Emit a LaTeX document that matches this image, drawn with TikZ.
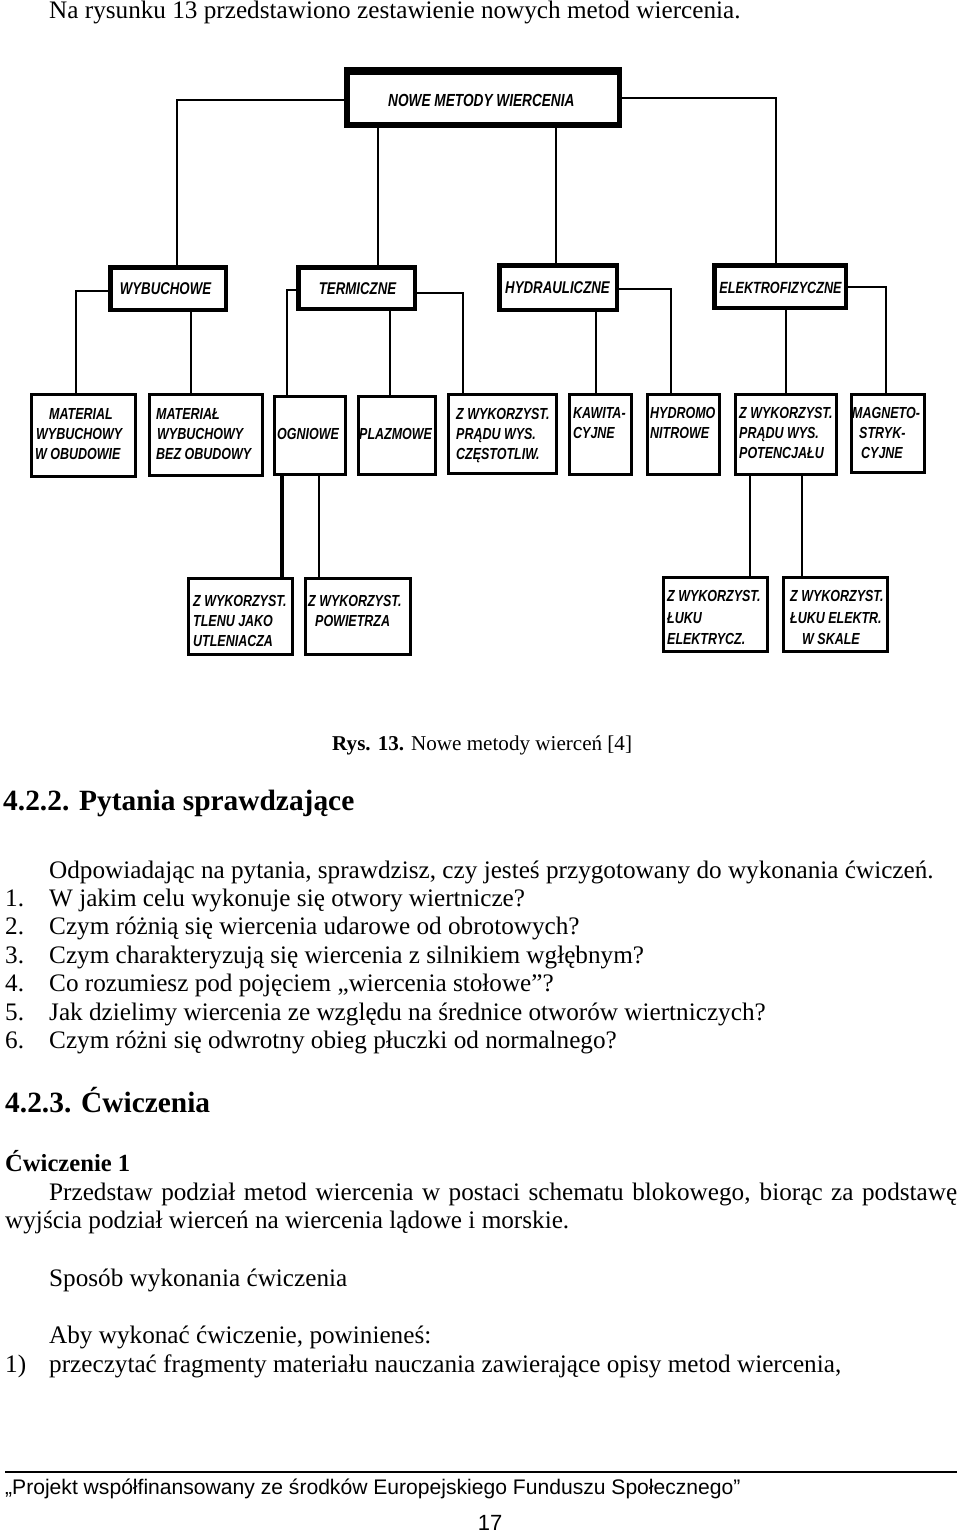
\documentclass[tikz,border=0pt]{standalone}
\usepackage{fontspec}
\setmainfont{Liberation Serif}
\newfontfamily\diagfont[FakeStretch=0.78]{Liberation Sans}
\newfontfamily\footfont{Liberation Sans}
\begin{document}
\begin{tikzpicture}[x=1pt,y=-1pt,
  body/.style={anchor=base west, inner sep=0, font=\fontsize{25.2}{28}\selectfont},
  captext/.style={anchor=base west, inner sep=0, font=\fontsize{21.1}{26}\selectfont},
  head/.style={anchor=base west, inner sep=0, font=\fontsize{29.4}{32}\selectfont\bfseries},
  subhead/.style={anchor=base west, inner sep=0, font=\fontsize{24.6}{28}\selectfont\bfseries},
  foot/.style={anchor=base west, inner sep=0, font=\footfont\fontsize{21.1}{24}\selectfont},
  lbl/.style={anchor=base west, inner sep=0, font=\diagfont\bfseries\itshape\fontsize{16}{20}\selectfont},
  lblII/.style={anchor=base, inner sep=0, font=\diagfont\bfseries\itshape\fontsize{17}{20}\selectfont},
  lblI/.style={anchor=base west, inner sep=0, font=\diagfont\bfseries\itshape\fontsize{17.5}{20}\selectfont},
  boxI/.style={draw, line width=5.5pt, inner sep=0},
  boxII/.style={draw, line width=4.5pt, inner sep=0},
  boxIII/.style={draw, line width=3pt, inner sep=0},
  conn/.style={draw, line width=2.8pt},
]
\useasboundingbox (0,0) rectangle (960,1533);
\fill[white] (0,0) rectangle (960,1533);

% ---------- text above ----------
\node[body] (t0) at (49,19) {Na rysunku 13 przedstawiono zestawienie nowych metod wiercenia.};

% ---------- diagram boxes ----------
\node[boxI, minimum width=272.5pt, minimum height=55.5pt] (T) at (483,97.5) {};
\fill (T.north west) rectangle ++(278,8);
\node[lblI] (tT) at (388,107) {NOWE METODY WIERCENIA};

\node[boxII, minimum width=115.5pt, minimum height=42.5pt] (W) at (168,288.5) {};
\node[boxII, minimum width=116.5pt, minimum height=41.5pt] (Te) at (356.5,288) {};
\node[boxII, minimum width=117.5pt, minimum height=44.5pt] (H) at (558,287.5) {};
\node[boxII, minimum width=131.5pt, minimum height=42.5pt] (E) at (780,286.5) {};
\node[lblII] (tW) at (165.5,294) {WYBUCHOWE};
\node[lblII] (tTe) at (357.5,294) {TERMICZNE};
\node[lblII] (tH) at (557.5,293) {HYDRAULICZNE};
\node[lblII, font=\diagfont\bfseries\itshape\fontsize{16.2}{20}\selectfont] (tE) at (780.5,293) {ELEKTROFIZYCZNE};

\node[boxIII, minimum width=104pt, minimum height=82pt] (A1) at (83.5,435.5) {};
\node[boxIII, minimum width=113pt, minimum height=81pt] (A2) at (206,435) {};
\node[boxIII, minimum width=71pt, minimum height=78pt] (A3) at (310,435.5) {};
\node[boxIII, minimum width=77pt, minimum height=78pt] (A4) at (397,435.5) {};
\node[boxIII, minimum width=108pt, minimum height=79pt] (A5) at (502.5,434) {};
\node[boxIII, minimum width=62pt, minimum height=80pt] (A6) at (600.5,434.5) {};
\node[boxIII, minimum width=72pt, minimum height=80pt] (A7) at (683.5,434.5) {};
\node[boxIII, minimum width=101pt, minimum height=80pt] (A8) at (786,434.5) {};
\node[boxIII, minimum width=73pt, minimum height=78pt] (A9) at (888,433.5) {};

\node[lbl] (a1a) at (49,419) {MATERIAL};
\node[lbl] (a1b) at (36,439) {WYBUCHOWY};
\node[lbl] (a1c) at (35,459) {W OBUDOWIE};
\node[lbl] (a2a) at (156,419) {MATERIAŁ};
\node[lbl] (a2b) at (157,439) {WYBUCHOWY};
\node[lbl] (a2c) at (156,459) {BEZ OBUDOWY};
\node[lbl] (a3a) at (277,439) {OGNIOWE};
\node[lbl] (a4a) at (359,439) {PLAZMOWE};
\node[lbl] (a5a) at (456,419) {Z WYKORZYST.};
\node[lbl] (a5b) at (456,439) {PRĄDU WYS.};
\node[lbl] (a5c) at (456,459) {CZĘSTOTLIW.};
\node[lbl] (a6a) at (573,418) {KAWITA-};
\node[lbl] (a6b) at (573,438) {CYJNE};
\node[lbl] (a7a) at (650,418) {HYDROMO};
\node[lbl] (a7b) at (650,438) {NITROWE};
\node[lbl] (a8a) at (739,418) {Z WYKORZYST.};
\node[lbl] (a8b) at (739,438) {PRĄDU WYS.};
\node[lbl] (a8c) at (739,458) {POTENCJAŁU};
\node[lbl] (a9a) at (852,418) {MAGNETO-};
\node[lbl] (a9b) at (859,438) {STRYK-};
\node[lbl] (a9c) at (861,458) {CYJNE};

\node[boxIII, minimum width=104pt, minimum height=76pt] (B1) at (240.5,616.5) {};
\node[boxIII, minimum width=105pt, minimum height=76pt] (B2) at (358,616.5) {};
\node[boxIII, minimum width=104pt, minimum height=74pt] (B3) at (715.5,614.5) {};
\node[boxIII, minimum width=104pt, minimum height=74pt] (B4) at (835.5,614.5) {};

\node[lbl] (b1a) at (193,606) {Z WYKORZYST.};
\node[lbl] (b1b) at (193,626) {TLENU JAKO};
\node[lbl] (b1c) at (193,646) {UTLENIACZA};
\node[lbl] (b2a) at (308,606) {Z WYKORZYST.};
\node[lbl] (b2b) at (315,626) {POWIETRZA};
\node[lbl] (b3a) at (667,601) {Z WYKORZYST.};
\node[lbl] (b3b) at (667,623) {ŁUKU};
\node[lbl] (b3c) at (667,644) {ELEKTRYCZ.};
\node[lbl] (b4a) at (790,601) {Z WYKORZYST.};
\node[lbl] (b4b) at (790,623) {ŁUKU ELEKTR.};
\node[lbl] (b4c) at (802,644) {W SKALE};

% ---------- connectors ----------
\coordinate (eL) at (177,100);
\coordinate (eR) at (776,98);
\coordinate (vTe) at (378,0);
\coordinate (vH) at (556,0);
\coordinate (wL) at (76,291);
\coordinate (wB) at (191,0);
\coordinate (tL) at (287,290);
\coordinate (tB) at (390,0);
\coordinate (tR) at (463,293);
\coordinate (hB) at (596,0);
\coordinate (hR) at (671,289);
\coordinate (eB) at (786,0);
\coordinate (eR2) at (886,287);
\coordinate (oL) at (282,0);
\coordinate (oR) at (319,0);
\coordinate (pL) at (750,0);
\coordinate (pR) at (802,0);

\draw[conn] (T.west |- eL) -- (eL) -- (eL |- W.north);
\draw[conn] (T.east |- eR) -- (eR) -- (eR |- E.north);
\draw[conn] (vTe |- T.south) -- (vTe |- Te.north);
\draw[conn] (vH |- T.south) -- (vH |- H.north);
\draw[conn] (W.west |- wL) -- (wL) -- (wL |- A1.north);
\draw[conn] (wB |- W.south) -- (wB |- A2.north);
\draw[conn] (Te.west |- tL) -- (tL) -- (tL |- A3.north);
\draw[conn] (tB |- Te.south) -- (tB |- A4.north);
\draw[conn] (Te.east |- tR) -- (tR) -- (tR |- A5.north);
\draw[conn] (hB |- H.south) -- (hB |- A6.north);
\draw[conn] (H.east |- hR) -- (hR) -- (hR |- A7.north);
\draw[conn] (eB |- E.south) -- (eB |- A8.north);
\draw[conn] (E.east |- eR2) -- (eR2) -- (eR2 |- A9.north);
\draw[conn, line width=3.5pt] (oL |- A3.south) -- (oL |- B1.north);
\draw[conn, line width=2.5pt] (oR |- A3.south) -- (oR |- B2.north);
\draw[conn] (pL |- A8.south) -- (pL |- B3.north);
\draw[conn] (pR |- A8.south) -- (pR |- B4.north);

% ---------- text below ----------
\node[captext] (capt) at (332,750) {\textbf{Rys. 13.} Nowe metody wierceń [4]};
\node[head] (h1) at (3,810) {4.2.2. Pytania sprawdzające};
\node[body] (q0) at (49,878) {Odpowiadając na pytania, sprawdzisz, czy jesteś przygotowany do wykonania ćwiczeń.};
\node[body] (n1) at (5,906.4) {1.};
\node[body] (q1) at (49,906.4) {W jakim celu wykonuje się otwory wiertnicze?};
\node[body] (n2) at (5,934.8) {2.};
\node[body] (q2) at (49,934.8) {Czym różnią się wiercenia udarowe od obrotowych?};
\node[body] (n3) at (5,963.2) {3.};
\node[body] (q3) at (49,963.2) {Czym charakteryzują się wiercenia z silnikiem wgłębnym?};
\node[body] (n4) at (5,991.6) {4.};
\node[body] (q4) at (49,991.6) {Co rozumiesz pod pojęciem „wiercenia stołowe”?};
\node[body] (n5) at (5,1020) {5.};
\node[body] (q5) at (49,1020) {Jak dzielimy wiercenia ze względu na średnice otworów wiertniczych?};
\node[body] (n6) at (5,1048.4) {6.};
\node[body] (q6) at (49,1048.4) {Czym różni się odwrotny obieg płuczki od normalnego?};

\node[head] (h2) at (5,1112) {4.2.3. Ćwiczenia};
\node[subhead] (h3) at (5,1171) {Ćwiczenie 1};
\node[body] (p1) at (49,1200) {\makebox[908pt][s]{Przedstaw podział metod wiercenia w postaci schematu blokowego, biorąc za podstawę}};
\node[body] (p2) at (5,1228) {wyjścia podział wierceń na wiercenia lądowe i morskie.};
\node[body] (p3) at (49,1286) {Sposób wykonania ćwiczenia};
\node[body] (p4) at (49,1343) {Aby wykonać ćwiczenie, powinieneś:};
\node[body] (n7) at (5,1372) {1)};
\node[body] (p5) at (49,1372) {przeczytać fragmenty materiału nauczania zawierające opisy metod wiercenia,};

\coordinate (r1) at (5,1472);
\coordinate (r2) at (957,1472);
\draw[line width=1.8pt] (r1) -- (r2);
\node[foot] (f1) at (5,1494) {„Projekt współfinansowany ze środków Europejskiego Funduszu Społecznego”};
\node[foot, anchor=base, font=\footfont\fontsize{22}{26}\selectfont] (pg) at (490,1530) {17};
\end{tikzpicture}
\end{document}
